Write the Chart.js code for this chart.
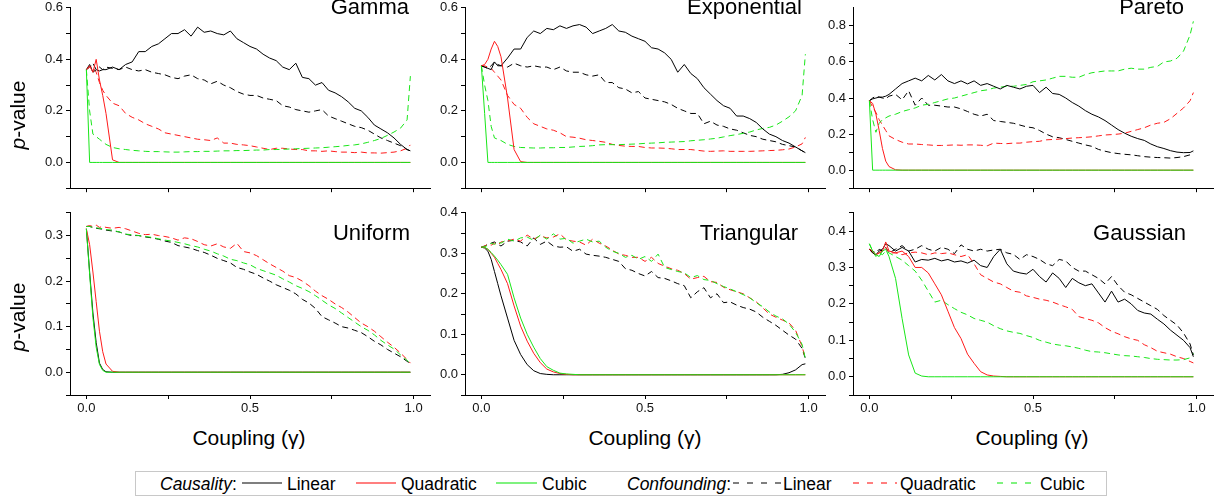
<!DOCTYPE html>
<html>
<head>
<meta charset="utf-8">
<script src="https://cdn.jsdelivr.net/npm/chart.js@4.4.1/dist/chart.umd.min.js"></script>
<style>
  html, body { margin: 0; padding: 0; background: #fff; }
  body { width: 1222px; height: 499px; position: relative; overflow: hidden;
         font-family: "Liberation Sans", Arial, sans-serif; color: #000; }
  canvas { position: absolute; }
  .title { position: absolute; width: 200px; text-align: right; font-size: 22px; line-height: 22px; }
  .xlab { position: absolute; width: 200px; text-align: center; font-size: 21px; line-height: 21px; }
  .ylab { position: absolute; font-size: 21px; line-height: 21px; white-space: nowrap;
          transform: translate(-50%, -50%) rotate(-90deg); }
  #legendBox { position: absolute; left: 135px; top: 471px; width: 972px; height: 25px;
               box-sizing: border-box; border: 1px solid #c8c8c8; background: #fff; }
  .lt { position: absolute; top: 476px; font-size: 17.5px; line-height: 17.5px; white-space: nowrap; }
  #legendLines { position: absolute; left: 0; top: 460px; }
</style>
</head>
<body>

<div id="legendBox"></div>
<span class="lt" style="left:160px"><i>Causality</i>:</span>
<span class="lt" style="left:287px">Linear</span>
<span class="lt" style="left:401px">Quadratic</span>
<span class="lt" style="left:542px">Cubic</span>
<span class="lt" style="left:627px"><i>Confounding</i>:</span>
<span class="lt" style="left:783px">Linear</span>
<span class="lt" style="left:900px">Quadratic</span>
<span class="lt" style="left:1040px">Cubic</span>
<svg id="legendLines" width="1222" height="39" xmlns="http://www.w3.org/2000/svg">
  <line x1="242" y1="23" x2="282" y2="23" stroke="#000000" stroke-width="1.2"/>
  <line x1="356" y1="23" x2="396" y2="23" stroke="#ff0000" stroke-width="1.2"/>
  <line x1="496" y1="23" x2="537" y2="23" stroke="#00e600" stroke-width="1.2"/>
  <line x1="733" y1="23" x2="781" y2="23" stroke="#000000" stroke-width="1.2" stroke-dasharray="6,8"/>
  <line x1="853" y1="23" x2="897" y2="23" stroke="#ff0000" stroke-width="1.2" stroke-dasharray="6,8"/>
  <line x1="997" y1="23" x2="1038" y2="23" stroke="#00e600" stroke-width="1.2" stroke-dasharray="6,8"/>
</svg>

<script>
// ---- coupling values (x) shared by every panel ----
const coupling = [
  0, 0.01, 0.02, 0.03, 0.04, 0.05, 0.06,
  0.08, 0.10, 0.12, 0.14, 0.16, 0.18, 0.20, 0.22, 0.24, 0.26,
  0.28, 0.30, 0.32, 0.34, 0.36, 0.38, 0.40, 0.42, 0.44, 0.46,
  0.48, 0.50, 0.52, 0.54, 0.56, 0.58, 0.60, 0.62, 0.64, 0.66,
  0.68, 0.70, 0.72, 0.74, 0.76, 0.78, 0.80, 0.82, 0.84, 0.86,
  0.88, 0.90, 0.92, 0.94, 0.96, 0.98, 0.99
];

// ---- Gamma ----
const gammaCausLinear = [
  0.36, 0.38, 0.35, 0.36, 0.355, 0.36, 0.36,
  0.37, 0.36, 0.38, 0.39, 0.43, 0.43, 0.45, 0.46, 0.48, 0.50,
  0.50, 0.515, 0.49, 0.525, 0.505, 0.51, 0.50, 0.495, 0.51, 0.48,
  0.465, 0.45, 0.44, 0.42, 0.405, 0.395, 0.37, 0.36, 0.385, 0.33,
  0.325, 0.30, 0.31, 0.28, 0.27, 0.255, 0.235, 0.21, 0.20, 0.175,
  0.145, 0.13, 0.115, 0.095, 0.07, 0.05, 0.045
];
const gammaCausQuad = [
  0.36, 0.375, 0.35, 0.40, 0.32, 0.26, 0.19,
  0.01, 0, 0, 0, 0, 0, 0, 0, 0, 0,
  0, 0, 0, 0, 0, 0, 0, 0, 0, 0,
  0, 0, 0, 0, 0, 0, 0, 0, 0, 0,
  0, 0, 0, 0, 0, 0, 0, 0, 0, 0,
  0, 0, 0, 0, 0, 0, 0
];
const gammaCausCubic = [
  0.36, 0, 0, 0, 0, 0, 0,
  0, 0, 0, 0, 0, 0, 0, 0, 0, 0,
  0, 0, 0, 0, 0, 0, 0, 0, 0, 0,
  0, 0, 0, 0, 0, 0, 0, 0, 0, 0,
  0, 0, 0, 0, 0, 0, 0, 0, 0, 0,
  0, 0, 0, 0, 0, 0, 0
];
const gammaConfLinear = [
  0.36, 0.37, 0.385, 0.36, 0.37, 0.36, 0.37,
  0.365, 0.36, 0.37, 0.36, 0.355, 0.36, 0.35, 0.345, 0.34, 0.33,
  0.325, 0.335, 0.34, 0.325, 0.32, 0.305, 0.315, 0.30, 0.29, 0.275,
  0.265, 0.26, 0.26, 0.25, 0.245, 0.24, 0.22, 0.215, 0.205, 0.20,
  0.195, 0.20, 0.205, 0.18, 0.17, 0.16, 0.15, 0.14, 0.135, 0.125,
  0.11, 0.095, 0.085, 0.075, 0.065, 0.05, 0.045
];
const gammaConfQuad = [
  0.36, 0.37, 0.37, 0.35, 0.31, 0.28, 0.26,
  0.23, 0.22, 0.19, 0.175, 0.165, 0.15, 0.14, 0.13, 0.115, 0.11,
  0.105, 0.10, 0.095, 0.09, 0.088, 0.085, 0.095, 0.075, 0.075, 0.07,
  0.068, 0.065, 0.06, 0.055, 0.05, 0.055, 0.055, 0.052, 0.05, 0.05,
  0.045, 0.045, 0.043, 0.045, 0.042, 0.04, 0.04, 0.038, 0.04, 0.037,
  0.037, 0.036, 0.038, 0.04, 0.045, 0.055, 0.068
];
const gammaConfCubic = [
  0.36, 0.2, 0.11, 0.10, 0.09, 0.08, 0.07,
  0.058, 0.053, 0.05, 0.047, 0.045, 0.043, 0.042, 0.042, 0.041, 0.04,
  0.04, 0.041, 0.042, 0.042, 0.043, 0.043, 0.044, 0.045, 0.045, 0.046,
  0.046, 0.047, 0.048, 0.048, 0.05, 0.05, 0.051, 0.052, 0.053, 0.054,
  0.055, 0.056, 0.057, 0.059, 0.061, 0.063, 0.066, 0.068, 0.072, 0.078,
  0.085, 0.093, 0.105, 0.118, 0.133, 0.165, 0.335
];

// ---- Exponential ----
const expoCausLinear = [
  0.375, 0.37, 0.365, 0.36, 0.39, 0.375, 0.375,
  0.405, 0.44, 0.44, 0.485, 0.51, 0.50, 0.52, 0.515, 0.53, 0.52,
  0.53, 0.535, 0.525, 0.50, 0.51, 0.52, 0.535, 0.51, 0.505, 0.49,
  0.48, 0.47, 0.445, 0.44, 0.425, 0.40, 0.35, 0.38, 0.345, 0.325,
  0.29, 0.265, 0.24, 0.22, 0.21, 0.18, 0.18, 0.17, 0.155, 0.13,
  0.11, 0.10, 0.085, 0.075, 0.06, 0.045, 0.038
];
const expoCausQuad = [
  0.375, 0.38, 0.40, 0.44, 0.47, 0.45, 0.41,
  0.25, 0.05, 0.003, 0, 0, 0, 0, 0, 0, 0,
  0, 0, 0, 0, 0, 0, 0, 0, 0, 0,
  0, 0, 0, 0, 0, 0, 0, 0, 0, 0,
  0, 0, 0, 0, 0, 0, 0, 0, 0, 0,
  0, 0, 0, 0, 0, 0, 0
];
const expoCausCubic = [
  0.375, 0.19, 0, 0, 0, 0, 0,
  0, 0, 0, 0, 0, 0, 0, 0, 0, 0,
  0, 0, 0, 0, 0, 0, 0, 0, 0, 0,
  0, 0, 0, 0, 0, 0, 0, 0, 0, 0,
  0, 0, 0, 0, 0, 0, 0, 0, 0, 0,
  0, 0, 0, 0, 0, 0, 0
];
const expoConfLinear = [
  0.375, 0.37, 0.365, 0.375, 0.39, 0.38, 0.375,
  0.37, 0.385, 0.375, 0.37, 0.375, 0.37, 0.37, 0.36, 0.37, 0.355,
  0.35, 0.35, 0.34, 0.335, 0.34, 0.31, 0.31, 0.29, 0.285, 0.27,
  0.275, 0.25, 0.245, 0.24, 0.235, 0.225, 0.21, 0.20, 0.19, 0.19,
  0.15, 0.16, 0.145, 0.14, 0.13, 0.125, 0.115, 0.105, 0.10, 0.09,
  0.085, 0.08, 0.07, 0.065, 0.06, 0.045, 0.038
];
const expoConfQuad = [
  0.375, 0.375, 0.37, 0.365, 0.35, 0.335, 0.32,
  0.26, 0.225, 0.21, 0.175, 0.15, 0.14, 0.13, 0.125, 0.115, 0.10,
  0.098, 0.094, 0.088, 0.085, 0.082, 0.078, 0.07, 0.066, 0.063, 0.062,
  0.062, 0.058, 0.056, 0.056, 0.055, 0.053, 0.05, 0.05, 0.05, 0.047,
  0.044, 0.043, 0.044, 0.045, 0.043, 0.043, 0.043, 0.043, 0.044, 0.045,
  0.046, 0.047, 0.049, 0.052, 0.06, 0.072, 0.097
];
const expoConfCubic = [
  0.375, 0.30, 0.24, 0.14, 0.095, 0.09, 0.085,
  0.07, 0.062, 0.058, 0.057, 0.056, 0.056, 0.057, 0.057, 0.058, 0.058,
  0.06, 0.062, 0.063, 0.065, 0.068, 0.069, 0.069, 0.069, 0.07, 0.071,
  0.072, 0.074, 0.075, 0.076, 0.078, 0.079, 0.08, 0.081, 0.084, 0.086,
  0.088, 0.091, 0.094, 0.099, 0.104, 0.108, 0.113, 0.118, 0.126, 0.132,
  0.136, 0.145, 0.16, 0.177, 0.2, 0.26, 0.42
];

// ---- Pareto ----
const paretoCausLinear = [
  0.385, 0.395, 0.40, 0.405, 0.405, 0.41, 0.42,
  0.45, 0.48, 0.495, 0.51, 0.495, 0.525, 0.50, 0.53, 0.495, 0.48,
  0.495, 0.478, 0.495, 0.47, 0.48, 0.465, 0.45, 0.47, 0.46, 0.45,
  0.465, 0.47, 0.43, 0.46, 0.425, 0.42, 0.40, 0.375, 0.355, 0.33,
  0.31, 0.295, 0.275, 0.25, 0.225, 0.205, 0.188, 0.175, 0.165, 0.145,
  0.13, 0.12, 0.108, 0.10, 0.097, 0.098, 0.107
];
const paretoCausQuad = [
  0.385, 0.37, 0.31, 0.22, 0.12, 0.05, 0.02,
  0.002, 0, 0, 0, 0, 0, 0, 0, 0, 0,
  0, 0, 0, 0, 0, 0, 0, 0, 0, 0,
  0, 0, 0, 0, 0, 0, 0, 0, 0, 0,
  0, 0, 0, 0, 0, 0, 0, 0, 0, 0,
  0, 0, 0, 0, 0, 0, 0
];
const paretoCausCubic = [
  0.385, 0, 0, 0, 0, 0, 0,
  0, 0, 0, 0, 0, 0, 0, 0, 0, 0,
  0, 0, 0, 0, 0, 0, 0, 0, 0, 0,
  0, 0, 0, 0, 0, 0, 0, 0, 0, 0,
  0, 0, 0, 0, 0, 0, 0, 0, 0, 0,
  0, 0, 0, 0, 0, 0, 0
];
const paretoConfLinear = [
  0.385, 0.40, 0.41, 0.405, 0.40, 0.395, 0.41,
  0.42, 0.39, 0.44, 0.36, 0.40, 0.36, 0.36, 0.355, 0.35, 0.35,
  0.34, 0.325, 0.31, 0.30, 0.31, 0.275, 0.27, 0.265, 0.26, 0.25,
  0.24, 0.235, 0.22, 0.20, 0.185, 0.18, 0.17, 0.16, 0.15, 0.14,
  0.132, 0.115, 0.105, 0.097, 0.092, 0.088, 0.085, 0.08, 0.075, 0.072,
  0.07, 0.069, 0.067, 0.07, 0.075, 0.085, 0.098
];
const paretoConfQuad = [
  0.385, 0.35, 0.32, 0.28, 0.25, 0.22, 0.19,
  0.17, 0.155, 0.145, 0.145, 0.142, 0.14, 0.137, 0.137, 0.138, 0.14,
  0.138, 0.14, 0.14, 0.138, 0.135, 0.15, 0.148, 0.147, 0.15, 0.15,
  0.155, 0.158, 0.16, 0.168, 0.17, 0.172, 0.175, 0.178, 0.18, 0.182,
  0.185, 0.19, 0.195, 0.197, 0.20, 0.205, 0.215, 0.225, 0.235, 0.25,
  0.26, 0.265, 0.285, 0.315, 0.345, 0.385, 0.43
];
const paretoConfCubic = [
  0.385, 0.28, 0.21, 0.26, 0.28, 0.29, 0.30,
  0.31, 0.325, 0.335, 0.345, 0.36, 0.365, 0.375, 0.385, 0.395, 0.40,
  0.41, 0.42, 0.43, 0.44, 0.445, 0.455, 0.46, 0.465, 0.465, 0.47,
  0.475, 0.49, 0.495, 0.50, 0.51, 0.52, 0.52, 0.515, 0.515, 0.53,
  0.54, 0.545, 0.55, 0.55, 0.55, 0.56, 0.565, 0.56, 0.56, 0.57,
  0.575, 0.60, 0.605, 0.62, 0.66, 0.75, 0.825
];

// ---- Uniform ----
const uniformCausLinear = [
  0.315, 0.22, 0.13, 0.065, 0.02, 0.006, 0.001,
  0, 0, 0, 0, 0, 0, 0, 0, 0, 0,
  0, 0, 0, 0, 0, 0, 0, 0, 0, 0,
  0, 0, 0, 0, 0, 0, 0, 0, 0, 0,
  0, 0, 0, 0, 0, 0, 0, 0, 0, 0,
  0, 0, 0, 0, 0, 0, 0
];
const uniformCausQuad = [
  0.315, 0.28, 0.22, 0.155, 0.09, 0.045, 0.018,
  0.002, 0, 0, 0, 0, 0, 0, 0, 0, 0,
  0, 0, 0, 0, 0, 0, 0, 0, 0, 0,
  0, 0, 0, 0, 0, 0, 0, 0, 0, 0,
  0, 0, 0, 0, 0, 0, 0, 0, 0, 0,
  0, 0, 0, 0, 0, 0, 0
];
const uniformCausCubic = [
  0.315, 0.215, 0.12, 0.055, 0.017, 0.004, 0,
  0, 0, 0, 0, 0, 0, 0, 0, 0, 0,
  0, 0, 0, 0, 0, 0, 0, 0, 0, 0,
  0, 0, 0, 0, 0, 0, 0, 0, 0, 0,
  0, 0, 0, 0, 0, 0, 0, 0, 0, 0,
  0, 0, 0, 0, 0, 0, 0
];
const uniformConfLinear = [
  0.32, 0.32, 0.318, 0.316, 0.315, 0.314, 0.312,
  0.31, 0.308, 0.303, 0.30, 0.30, 0.297, 0.295, 0.292, 0.288, 0.285,
  0.278, 0.275, 0.272, 0.267, 0.263, 0.257, 0.25, 0.245, 0.24, 0.23,
  0.226, 0.22, 0.215, 0.207, 0.20, 0.192, 0.186, 0.18, 0.172, 0.16,
  0.152, 0.14, 0.122, 0.115, 0.108, 0.10, 0.097, 0.092, 0.087, 0.078,
  0.068, 0.06, 0.05, 0.042, 0.034, 0.024, 0.018
];
const uniformConfQuad = [
  0.32, 0.322, 0.32, 0.323, 0.318, 0.32, 0.318,
  0.316, 0.318, 0.315, 0.31, 0.305, 0.302, 0.303, 0.30, 0.298, 0.295,
  0.29, 0.295, 0.293, 0.287, 0.28, 0.277, 0.282, 0.275, 0.272, 0.283,
  0.265, 0.262, 0.256, 0.247, 0.238, 0.23, 0.222, 0.212, 0.208, 0.20,
  0.19, 0.178, 0.168, 0.16, 0.15, 0.142, 0.132, 0.12, 0.108, 0.10,
  0.09, 0.078, 0.066, 0.055, 0.042, 0.028, 0.02
];
const uniformConfCubic = [
  0.32, 0.32, 0.318, 0.317, 0.316, 0.315, 0.313,
  0.312, 0.308, 0.303, 0.302, 0.30, 0.298, 0.296, 0.293, 0.29, 0.288,
  0.285, 0.282, 0.278, 0.275, 0.27, 0.266, 0.26, 0.255, 0.248, 0.245,
  0.24, 0.236, 0.228, 0.223, 0.218, 0.213, 0.205, 0.198, 0.19, 0.184,
  0.177, 0.168, 0.158, 0.148, 0.14, 0.13, 0.12, 0.11, 0.10, 0.092,
  0.082, 0.07, 0.06, 0.051, 0.038, 0.026, 0.02
];

// ---- Triangular ----
const triCausLinear = [
  0.315, 0.313, 0.305, 0.285, 0.255, 0.225, 0.195,
  0.14, 0.085, 0.05, 0.025, 0.01, 0.003, 0.001, 0, 0, 0,
  0, 0, 0, 0, 0, 0, 0, 0, 0, 0,
  0, 0, 0, 0, 0, 0, 0, 0, 0, 0,
  0, 0, 0, 0, 0, 0, 0, 0, 0, 0,
  0, 0, 0.001, 0.005, 0.012, 0.025, 0.027
];
const triCausQuad = [
  0.315, 0.314, 0.31, 0.30, 0.29, 0.275, 0.26,
  0.225, 0.17, 0.12, 0.083, 0.053, 0.03, 0.014, 0.007, 0.003, 0.001,
  0, 0, 0, 0, 0, 0, 0, 0, 0, 0,
  0, 0, 0, 0, 0, 0, 0, 0, 0, 0,
  0, 0, 0, 0, 0, 0, 0, 0, 0, 0,
  0, 0, 0, 0, 0, 0, 0
];
const triCausCubic = [
  0.315, 0.315, 0.31, 0.302, 0.293, 0.283, 0.272,
  0.248, 0.19, 0.14, 0.10, 0.068, 0.04, 0.02, 0.011, 0.004, 0.002,
  0.001, 0, 0, 0, 0, 0, 0, 0, 0, 0,
  0, 0, 0, 0, 0, 0, 0, 0, 0, 0,
  0, 0, 0, 0, 0, 0, 0, 0, 0, 0,
  0, 0, 0, 0, 0, 0, 0
];
const triConfLinear = [
  0.315, 0.318, 0.322, 0.325, 0.328, 0.322, 0.318,
  0.33, 0.332, 0.328, 0.318, 0.338, 0.322, 0.33, 0.318, 0.315, 0.316,
  0.305, 0.31, 0.298, 0.295, 0.293, 0.29, 0.285, 0.28, 0.262, 0.258,
  0.25, 0.244, 0.255, 0.24, 0.238, 0.232, 0.225, 0.22, 0.19, 0.205,
  0.215, 0.19, 0.20, 0.178, 0.18, 0.172, 0.166, 0.162, 0.155, 0.142,
  0.132, 0.122, 0.11, 0.098, 0.088, 0.065, 0.04
];
const triConfQuad = [
  0.315, 0.318, 0.322, 0.32, 0.325, 0.32, 0.328,
  0.33, 0.335, 0.33, 0.345, 0.335, 0.343, 0.338, 0.34, 0.348, 0.333,
  0.33, 0.328, 0.32, 0.335, 0.325, 0.318, 0.308, 0.298, 0.295, 0.29,
  0.29, 0.28, 0.29, 0.275, 0.268, 0.262, 0.258, 0.25, 0.236, 0.24,
  0.243, 0.23, 0.228, 0.216, 0.21, 0.205, 0.20, 0.19, 0.18, 0.165,
  0.15, 0.142, 0.135, 0.128, 0.11, 0.07, 0.04
];
const triConfCubic = [
  0.315, 0.316, 0.32, 0.325, 0.322, 0.328, 0.325,
  0.335, 0.33, 0.338, 0.34, 0.332, 0.345, 0.335, 0.348, 0.335, 0.337,
  0.325, 0.33, 0.335, 0.328, 0.33, 0.315, 0.305, 0.30, 0.29, 0.295,
  0.285, 0.292, 0.28, 0.298, 0.265, 0.26, 0.255, 0.252, 0.24, 0.245,
  0.235, 0.233, 0.225, 0.218, 0.212, 0.205, 0.198, 0.19, 0.178, 0.168,
  0.155, 0.145, 0.138, 0.125, 0.105, 0.075, 0.04
];

// ---- Gaussian ----
const gaussCausLinear = [
  0.35, 0.34, 0.335, 0.345, 0.35, 0.365, 0.36,
  0.345, 0.355, 0.345, 0.315, 0.322, 0.32, 0.325, 0.318, 0.322, 0.315,
  0.318, 0.312, 0.32, 0.305, 0.30, 0.33, 0.35, 0.31, 0.29, 0.285,
  0.282, 0.295, 0.275, 0.26, 0.285, 0.27, 0.245, 0.27, 0.258, 0.25,
  0.255, 0.23, 0.205, 0.235, 0.205, 0.213, 0.20, 0.182, 0.175, 0.172,
  0.158, 0.145, 0.128, 0.114, 0.10, 0.08, 0.055
];
const gaussCausQuad = [
  0.35, 0.345, 0.335, 0.34, 0.345, 0.37, 0.345,
  0.34, 0.345, 0.33, 0.30, 0.30, 0.285, 0.255, 0.225, 0.18, 0.135,
  0.105, 0.062, 0.037, 0.014, 0.005, 0.002, 0.001, 0, 0, 0,
  0, 0, 0, 0, 0, 0, 0, 0, 0, 0,
  0, 0, 0, 0, 0, 0, 0, 0, 0, 0,
  0, 0, 0, 0, 0, 0, 0
];
const gaussCausCubic = [
  0.365, 0.345, 0.335, 0.33, 0.345, 0.35, 0.33,
  0.27, 0.16, 0.06, 0.01, 0.002, 0, 0, 0, 0, 0,
  0, 0, 0, 0, 0, 0, 0, 0, 0, 0,
  0, 0, 0, 0, 0, 0, 0, 0, 0, 0,
  0, 0, 0, 0, 0, 0, 0, 0, 0, 0,
  0, 0, 0, 0, 0, 0, 0
];
const gaussConfLinear = [
  0.35, 0.345, 0.34, 0.35, 0.345, 0.355, 0.34,
  0.35, 0.36, 0.345, 0.35, 0.36, 0.35, 0.345, 0.355, 0.35, 0.338,
  0.362, 0.35, 0.345, 0.35, 0.345, 0.348, 0.35, 0.34, 0.336, 0.322,
  0.335, 0.33, 0.322, 0.31, 0.305, 0.322, 0.318, 0.30, 0.29, 0.29,
  0.28, 0.27, 0.255, 0.275, 0.25, 0.232, 0.225, 0.215, 0.205, 0.195,
  0.185, 0.168, 0.155, 0.142, 0.12, 0.09, 0.06
];
const gaussConfQuad = [
  0.35, 0.34, 0.335, 0.34, 0.345, 0.355, 0.34,
  0.34, 0.335, 0.34, 0.342, 0.34, 0.335, 0.34, 0.338, 0.34, 0.335,
  0.33, 0.335, 0.31, 0.28, 0.27, 0.26, 0.255, 0.245, 0.235, 0.232,
  0.222, 0.218, 0.213, 0.21, 0.205, 0.198, 0.192, 0.185, 0.165, 0.16,
  0.155, 0.148, 0.135, 0.125, 0.118, 0.11, 0.104, 0.10, 0.088, 0.08,
  0.07, 0.066, 0.062, 0.055, 0.05, 0.042, 0.038
];
const gaussConfCubic = [
  0.365, 0.345, 0.33, 0.34, 0.335, 0.345, 0.34,
  0.33, 0.32, 0.305, 0.29, 0.265, 0.235, 0.205, 0.21, 0.198, 0.187,
  0.177, 0.17, 0.16, 0.155, 0.15, 0.14, 0.132, 0.126, 0.122, 0.119,
  0.113, 0.108, 0.10, 0.095, 0.09, 0.087, 0.085, 0.082, 0.078, 0.073,
  0.069, 0.068, 0.066, 0.063, 0.06, 0.058, 0.057, 0.055, 0.053, 0.05,
  0.048, 0.047, 0.046, 0.046, 0.047, 0.052, 0.064
];

// ---- ticks ----
const xTicks = [0, 0.25, 0.5, 0.75, 1];
const xTickLabels = [0, 0.5, 1];
const gammaYTicks = [-0.1, 0, 0.1, 0.2, 0.3, 0.4, 0.5, 0.6];
const gammaYLabels = [0, 0.2, 0.4, 0.6];
const paretoYTicks = [-0.1, 0, 0.1, 0.2, 0.3, 0.4, 0.5, 0.6, 0.7, 0.8];
const paretoYLabels = [0, 0.2, 0.4, 0.6, 0.8];
const uniformYTicks = [-0.05, 0, 0.05, 0.1, 0.15, 0.2, 0.25, 0.3, 0.35];
const uniformYLabels = [0, 0.1, 0.2, 0.3];
const triYTicks = [-0.05, 0, 0.05, 0.1, 0.15, 0.2, 0.25, 0.3, 0.35, 0.4];
const gaussYTicks = [-0.05, 0, 0.05, 0.1, 0.15, 0.2, 0.25, 0.3, 0.35, 0.4, 0.45];
const tenthLabels = [0, 0.1, 0.2, 0.3, 0.4];

// ---- colours ----
const BLACK = '#000000';
const RED = '#ff1a1a';
const GREEN = '#19e619';

const FONT = '"Liberation Sans", Arial, sans-serif';

// column axis position (left edge of plot) and row plot top / height
const colLeft = [70, 465, 853];
const rowTop = [7, 212];
const rowHeight = [184, 183];

const panels = [
  { name: 'Gamma', col: 0, row: 0, yMin: -0.1, yMax: 0.6, yTicks: gammaYTicks, yLabels: gammaYLabels,
    titleRight: 409,
    s: [gammaCausLinear, gammaCausQuad, gammaCausCubic, gammaConfLinear, gammaConfQuad, gammaConfCubic] },
  { name: 'Exponential', col: 1, row: 0, yMin: -0.1, yMax: 0.6, yTicks: gammaYTicks, yLabels: gammaYLabels,
    titleRight: 802,
    s: [expoCausLinear, expoCausQuad, expoCausCubic, expoConfLinear, expoConfQuad, expoConfCubic] },
  { name: 'Pareto', col: 2, row: 0, yMin: -0.1, yMax: 0.9, yTicks: paretoYTicks, yLabels: paretoYLabels,
    titleRight: 1184,
    s: [paretoCausLinear, paretoCausQuad, paretoCausCubic, paretoConfLinear, paretoConfQuad, paretoConfCubic] },
  { name: 'Uniform', col: 0, row: 1, yMin: -0.05, yMax: 0.35, yTicks: uniformYTicks, yLabels: uniformYLabels,
    titleRight: 410,
    s: [uniformCausLinear, uniformCausQuad, uniformCausCubic, uniformConfLinear, uniformConfQuad, uniformConfCubic] },
  { name: 'Triangular', col: 1, row: 1, yMin: -0.05, yMax: 0.4, yTicks: triYTicks, yLabels: tenthLabels,
    titleRight: 798,
    s: [triCausLinear, triCausQuad, triCausCubic, triConfLinear, triConfQuad, triConfCubic] },
  { name: 'Gaussian', col: 2, row: 1, yMin: -0.05, yMax: 0.45, yTicks: gaussYTicks, yLabels: tenthLabels,
    titleRight: 1186,
    s: [gaussCausLinear, gaussCausQuad, gaussCausCubic, gaussConfLinear, gaussConfQuad, gaussConfCubic] }
];

function pts(arr) {
  if (arr.length !== coupling.length) console.warn('length mismatch', arr.length);
  return coupling.map((x, i) => ({ x: x, y: arr[i] }));
}

function line(arr, color, dashed) {
  return {
    data: pts(arr),
    borderColor: color,
    borderWidth: 1,
    borderDash: dashed ? [6, 4] : [],
    pointRadius: 0,
    fill: false,
    tension: 0
  };
}

function isIn(list, v) {
  return list.some(l => Math.abs(l - v) < 1e-9);
}

const Y_AXIS_W = 60, PAD_TOP = 10, PAD_RIGHT = 10, PLOT_W = 360;

panels.forEach(p => {
  const bottomRow = p.row === 1;
  const xh = bottomRow ? 26 : 8;
  const h = rowHeight[p.row];

  const cv = document.createElement('canvas');
  cv.width = Y_AXIS_W + PLOT_W + PAD_RIGHT;
  cv.height = PAD_TOP + h + xh;
  cv.style.left = (colLeft[p.col] - Y_AXIS_W) + 'px';
  cv.style.top = (rowTop[p.row] - PAD_TOP) + 'px';
  document.body.appendChild(cv);

  // title
  const t = document.createElement('div');
  t.className = 'title';
  t.textContent = p.name;
  t.style.left = (p.titleRight - 200) + 'px';
  t.style.top = (p.row === 0 ? -3.6 : 222) + 'px';
  document.body.appendChild(t);

  const s = p.s;
  new Chart(cv, {
    type: 'line',
    data: {
      datasets: [
        line(s[2], GREEN, false),
        line(s[1], RED, false),
        line(s[0], BLACK, false),
        line(s[5], GREEN, true),
        line(s[4], RED, true),
        line(s[3], BLACK, true)
      ]
    },
    options: {
      responsive: false,
      animation: false,
      events: [],
      layout: { padding: { left: 0, top: PAD_TOP, right: PAD_RIGHT, bottom: 0 } },
      plugins: { legend: { display: false }, tooltip: { enabled: false } },
      scales: {
        x: {
          type: 'linear',
          min: -0.05,
          max: 1.05,
          afterBuildTicks: sc => { sc.ticks = xTicks.map(v => ({ value: v })); },
          afterFit: sc => { sc.height = xh; },
          grid: { drawOnChartArea: false, drawTicks: true, tickLength: 4, color: '#000' },
          border: { display: true, color: '#000', width: 1 },
          ticks: {
            display: bottomRow,
            autoSkip: false,
            maxRotation: 0,
            padding: 2,
            color: '#111',
            font: { family: FONT, size: 13 },
            callback: v => isIn(xTickLabels, v) ? v.toFixed(1) : ''
          }
        },
        y: {
          type: 'linear',
          min: p.yMin,
          max: p.yMax,
          afterBuildTicks: sc => { sc.ticks = p.yTicks.map(v => ({ value: v })); },
          afterFit: sc => { sc.width = Y_AXIS_W; },
          grid: { drawOnChartArea: false, drawTicks: true, tickLength: 4, color: '#000' },
          border: { display: true, color: '#000', width: 1 },
          ticks: {
            autoSkip: false,
            padding: 3,
            color: '#111',
            font: { family: FONT, size: 13 },
            callback: v => isIn(p.yLabels, v) ? v.toFixed(1) : ''
          }
        }
      }
    }
  });
});

// axis titles
[115, 317].forEach(cy => {
  const d = document.createElement('div');
  d.className = 'ylab';
  d.innerHTML = '<i>p</i>-value';
  d.style.left = '17px';
  d.style.top = cy + 'px';
  document.body.appendChild(d);
});
[249, 645, 1032].forEach(cx => {
  const d = document.createElement('div');
  d.className = 'xlab';
  d.textContent = 'Coupling (\u03b3)';
  d.style.left = (cx - 100) + 'px';
  d.style.top = '427px';
  document.body.appendChild(d);
});
</script>

</body>
</html>
